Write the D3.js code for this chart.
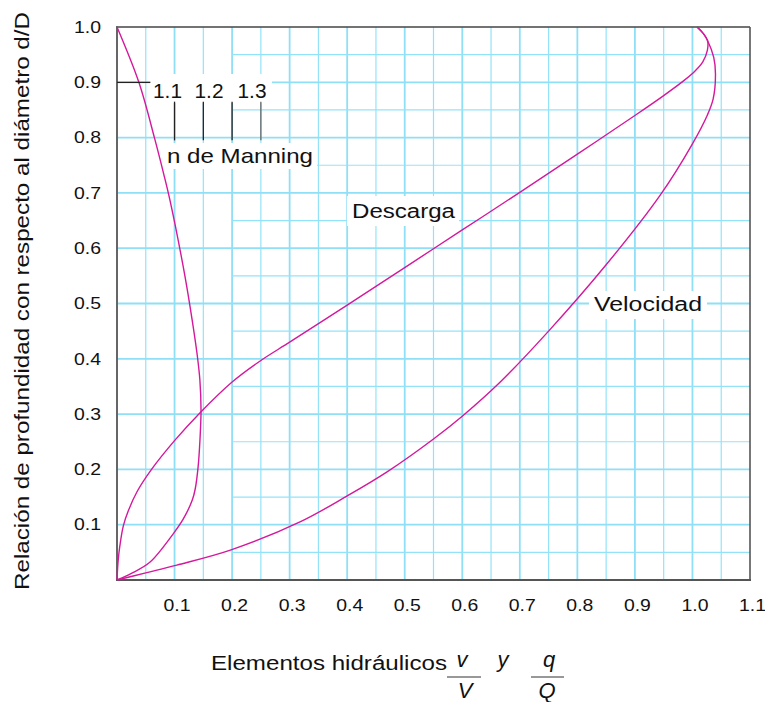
<!DOCTYPE html>
<html><head><meta charset="utf-8">
<script src="https://cdn.jsdelivr.net/npm/d3@7"></script>
<style>
html,body{margin:0;padding:0;background:#fff;}
text{font-family:"Liberation Sans",Arial,Helvetica,sans-serif;fill:#111;}
</style></head>
<body>
<svg id="c" width="765" height="702"></svg>
<script>
// ---- data ----
const xTicks = [0.1,0.2,0.3,0.4,0.5,0.6,0.7,0.8,0.9,1.0,1.1];
const yTicks = [0.1,0.2,0.3,0.4,0.5,0.6,0.7,0.8,0.9,1.0];
const manningLabels = ["1.1","1.2","1.3"];
const manningMarks = [0.1,0.15,0.2,0.25];
// Descarga (q/Q) : [x, d/D]
const descargaX = [0,0.002,0.005,0.011,0.02,0.035,0.06,0.10,0.144,0.20,0.25,0.30,0.40,0.50,0.60,0.70,0.80,0.90,0.95,0.985,1.005,1.018,1.026,1.026,1.019,1.008];
const descargaY = [0,0.035,0.062,0.098,0.126,0.16,0.20,0.252,0.302,0.358,0.397,0.43,0.497,0.565,0.633,0.701,0.77,0.84,0.876,0.903,0.921,0.937,0.958,0.976,0.988,1.0];
// Velocidad (v/V)
const velocidadX = [0,0.05,0.104,0.197,0.318,0.40,0.47,0.55,0.602,0.666,0.75,0.85,0.944,0.999,1.026,1.036,1.040,1.037,1.026,1.019,1.008];
const velocidadY = [0,0.013,0.027,0.054,0.105,0.152,0.196,0.255,0.298,0.358,0.45,0.57,0.696,0.787,0.841,0.87,0.915,0.945,0.976,0.988,1.0];
// n de Manning curve
const manningX = [0,0.038,0.065,0.081,0.092,0.115,0.127,0.139,0.144,0.146,0.144,0.141,0.136,0.131,0.115,0.098,0.057,0.025,0];
const manningY = [1.0,0.90,0.80,0.735,0.687,0.567,0.494,0.41,0.362,0.307,0.25,0.205,0.165,0.145,0.11,0.084,0.032,0.012,0];

const svg = d3.select("#c");
const x = d3.scaleLinear().domain([0,1.1]).range([117,750]);
const y = d3.scaleLinear().domain([0,1]).range([580,27]);
const fmt = d3.format(".1f");

// ---- grid ----
const g = svg.append("g");
const vLines = d3.range(1,22).map(i=>i*0.05);
g.selectAll("line.v").data(vLines).join("line")
 .attr("x1",d=>x(d)).attr("x2",d=>x(d)).attr("y1",y(0)).attr("y2",y(1))
 .attr("stroke",(d,i)=> i%2===1 ? "#8fdff6" : "#93e3f8")
 .attr("stroke-width",(d,i)=> i%2===1 ? 1.8 : 1.2);
const hFull = d3.range(1,10).map(i=>i*0.1);
g.selectAll("line.hf").data(hFull).join("line")
 .attr("x1",x(0)).attr("x2",x(1.1)).attr("y1",d=>y(d)).attr("y2",d=>y(d))
 .attr("stroke","#8fdff6").attr("stroke-width",1.8);
const hHalf = d3.range(0,10).map(i=>i*0.1+0.05);
g.selectAll("line.hh").data(hHalf).join("line")
 .attr("x1",x(0.2)).attr("x2",x(1.1)).attr("y1",d=>y(d)).attr("y2",d=>y(d))
 .attr("stroke","#93e3f8").attr("stroke-width",1.2);

// ---- white label boxes ----
const boxes = [[150,74,122,29],[163,143,154,26],[347,196,112,30],[589,291,118,28]];
svg.append("g").selectAll("rect").data(boxes).join("rect")
 .attr("x",d=>d[0]).attr("y",d=>d[1]).attr("width",d=>d[2]).attr("height",d=>d[3]).attr("fill","#fff");

// ---- frame ----
svg.append("line").attr("x1",x(0)).attr("x2",x(1.1)).attr("y1",y(1)).attr("y2",y(1)).attr("stroke","#444").attr("stroke-width",1.6);
svg.append("line").attr("x1",x(1.1)).attr("x2",x(1.1)).attr("y1",y(1)).attr("y2",y(0)).attr("stroke","#555").attr("stroke-width",1.6);
svg.append("line").attr("x1",x(0)).attr("x2",x(0)).attr("y1",y(1)-1).attr("y2",y(0)+1).attr("stroke","#666").attr("stroke-width",2);
svg.append("line").attr("x1",x(0)-1).attr("x2",x(1.1)+1).attr("y1",y(0)).attr("y2",y(0)).attr("stroke","#555").attr("stroke-width",2);

// ---- axes (labels only) ----
const xa = svg.append("g").attr("transform",`translate(2,${y(0)})`)
 .call(d3.axisBottom(x).tickValues(xTicks).tickFormat(fmt).tickSize(0).tickPadding(19));
xa.select(".domain").remove();
xa.selectAll("text").attr("font-size",16.5).attr("fill","#111")
 .style("font-family","'Liberation Sans',Arial,sans-serif")
 .attr("textLength",27).attr("lengthAdjust","spacingAndGlyphs");
const ya = svg.append("g").attr("transform",`translate(${x(0)},0)`)
 .call(d3.axisLeft(y).tickValues(yTicks).tickFormat(fmt).tickSize(0).tickPadding(16));
ya.select(".domain").remove();
ya.selectAll("text").attr("font-size",16.5).attr("fill","#111")
 .style("font-family","'Liberation Sans',Arial,sans-serif")
 .attr("textLength",27).attr("lengthAdjust","spacingAndGlyphs");

// ---- curves ----
const line = d3.line().x(d=>x(d[0])).y(d=>y(d[1])).curve(d3.curveCatmullRom.alpha(0.5));
const curves = [
  d3.zip(descargaX,descargaY),
  d3.zip(velocidadX,velocidadY),
  d3.zip(manningX,manningY)
];
svg.append("g").selectAll("path").data(curves).join("path")
 .attr("d",line).attr("fill","none").attr("stroke","#d4189c").attr("stroke-width",1.4);

// ---- Manning annotation ----
svg.append("line").attr("x1",x(0)).attr("x2",x(0.058)).attr("y1",y(0.9)).attr("y2",y(0.9)).attr("stroke","#222").attr("stroke-width",1.3);
svg.append("g").selectAll("line").data(manningMarks).join("line")
 .attr("x1",d=>x(d)).attr("x2",d=>x(d)).attr("y1",y(0.865)).attr("y2",y(0.795))
 .attr("stroke",(d,i)=> i===3 ? "#666" : "#222").attr("stroke-width",1.3);
const mlx = [167.5,209,252];
svg.append("g").selectAll("text").data(manningLabels).join("text")
 .attr("x",(d,i)=>mlx[i]).attr("y",98).attr("text-anchor","middle").attr("font-size",21)
 .attr("textLength",29).attr("lengthAdjust","spacingAndGlyphs").text(d=>d);
svg.append("text").attr("x",167).attr("y",163).attr("font-size",21)
 .attr("textLength",146).attr("lengthAdjust","spacingAndGlyphs").text("n de Manning");

// ---- curve labels ----
svg.append("text").attr("x",352).attr("y",218).attr("font-size",19.5)
 .attr("textLength",103).attr("lengthAdjust","spacingAndGlyphs").text("Descarga");
svg.append("text").attr("x",594).attr("y",311).attr("font-size",19.5)
 .attr("textLength",108).attr("lengthAdjust","spacingAndGlyphs").text("Velocidad");

// ---- axis titles ----
svg.append("text").attr("transform","translate(29,301) rotate(-90)").attr("text-anchor","middle")
 .attr("font-size",20).attr("textLength",578).attr("lengthAdjust","spacingAndGlyphs")
 .text("Relación de profundidad con respecto al diámetro d/D");
svg.append("text").attr("x",211).attr("y",670).attr("font-size",20)
 .attr("textLength",236).attr("lengthAdjust","spacingAndGlyphs").text("Elementos hidráulicos");
const it = (t,cx,by)=>svg.append("text").attr("x",cx).attr("y",by).attr("text-anchor","middle")
 .attr("font-size",22).attr("font-style","italic").text(t);
it("v",462,667); it("V",465,698);
it("y",503,667);
it("q",549,667); it("Q",547,698);
svg.append("line").attr("x1",447).attr("x2",481).attr("y1",677).attr("y2",677).attr("stroke","#333").attr("stroke-width",1.2);
svg.append("line").attr("x1",531).attr("x2",564).attr("y1",677).attr("y2",677).attr("stroke","#333").attr("stroke-width",1.2);
</script>
</body></html>
